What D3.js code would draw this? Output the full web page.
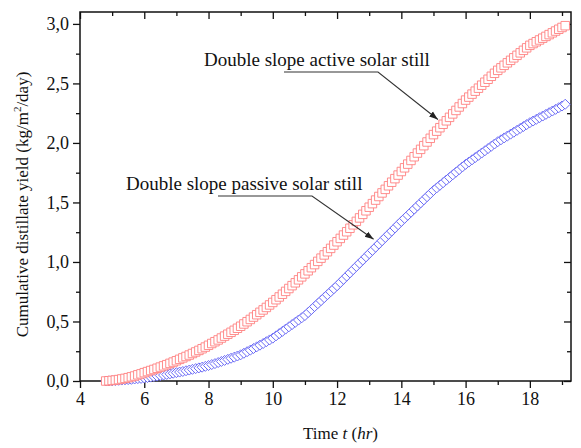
<!DOCTYPE html>
<html>
<head>
<meta charset="utf-8">
<script src="https://cdn.jsdelivr.net/npm/d3@7"></script>
<style>
body { margin: 0; background: #fff; }
text { font-family: "Liberation Serif", "Times New Roman", serif; fill: #111; }
</style>
</head>
<body>
<div id="chart"></div>
<script>
// time of day (hr), one reading every 0.1 hr
var time = [4.8, 4.9,
  5.0, 5.1, 5.2, 5.3, 5.4, 5.5, 5.6, 5.7, 5.8, 5.9,
  6.0, 6.1, 6.2, 6.3, 6.4, 6.5, 6.6, 6.7, 6.8, 6.9,
  7.0, 7.1, 7.2, 7.3, 7.4, 7.5, 7.6, 7.7, 7.8, 7.9,
  8.0, 8.1, 8.2, 8.3, 8.4, 8.5, 8.6, 8.7, 8.8, 8.9,
  9.0, 9.1, 9.2, 9.3, 9.4, 9.5, 9.6, 9.7, 9.8, 9.9,
  10.0, 10.1, 10.2, 10.3, 10.4, 10.5, 10.6, 10.7, 10.8, 10.9,
  11.0, 11.1, 11.2, 11.3, 11.4, 11.5, 11.6, 11.7, 11.8, 11.9,
  12.0, 12.1, 12.2, 12.3, 12.4, 12.5, 12.6, 12.7, 12.8, 12.9,
  13.0, 13.1, 13.2, 13.3, 13.4, 13.5, 13.6, 13.7, 13.8, 13.9,
  14.0, 14.1, 14.2, 14.3, 14.4, 14.5, 14.6, 14.7, 14.8, 14.9,
  15.0, 15.1, 15.2, 15.3, 15.4, 15.5, 15.6, 15.7, 15.8, 15.9,
  16.0, 16.1, 16.2, 16.3, 16.4, 16.5, 16.6, 16.7, 16.8, 16.9,
  17.0, 17.1, 17.2, 17.3, 17.4, 17.5, 17.6, 17.7, 17.8, 17.9,
  18.0, 18.1, 18.2, 18.3, 18.4, 18.5, 18.6, 18.7, 18.8, 18.9,
  19.0, 19.1]

// double slope active solar still (kg/m2/day)
var active = [0.000, 0.002,
  0.005, 0.008, 0.012, 0.017, 0.022, 0.028, 0.035, 0.042, 0.052, 0.060,
  0.070, 0.079, 0.088, 0.097, 0.107, 0.117, 0.127, 0.137, 0.148, 0.159,
  0.170, 0.182, 0.194, 0.206, 0.218, 0.231, 0.244, 0.257, 0.271, 0.285,
  0.300, 0.315, 0.330, 0.345, 0.361, 0.377, 0.393, 0.409, 0.426, 0.443,
  0.460, 0.479, 0.498, 0.517, 0.537, 0.557, 0.577, 0.597, 0.618, 0.639,
  0.660, 0.683, 0.706, 0.729, 0.753, 0.777, 0.801, 0.825, 0.850, 0.875,
  0.900, 0.926, 0.952, 0.978, 1.005, 1.032, 1.059, 1.086, 1.114, 1.142,
  1.170, 1.198, 1.226, 1.254, 1.283, 1.312, 1.341, 1.370, 1.400, 1.430,
  1.460, 1.490, 1.520, 1.550, 1.580, 1.610, 1.640, 1.670, 1.700, 1.730,
  1.760, 1.791, 1.822, 1.853, 1.884, 1.915, 1.946, 1.977, 2.008, 2.039,
  2.070, 2.099, 2.128, 2.157, 2.186, 2.215, 2.244, 2.273, 2.302, 2.331,
  2.360, 2.385, 2.410, 2.435, 2.460, 2.485, 2.510, 2.535, 2.560, 2.585,
  2.610, 2.631, 2.652, 2.673, 2.694, 2.715, 2.736, 2.757, 2.778, 2.799,
  2.820, 2.835, 2.850, 2.865, 2.880, 2.895, 2.910, 2.925, 2.940, 2.955,
  2.970, 2.985]

// double slope passive solar still (kg/m2/day)
var passive = [0.000, 0.001,
  0.002, 0.004, 0.006, 0.008, 0.010, 0.012, 0.014, 0.017, 0.020, 0.022,
  0.025, 0.029, 0.033, 0.037, 0.041, 0.046, 0.050, 0.055, 0.060, 0.065,
  0.070, 0.075, 0.080, 0.086, 0.092, 0.098, 0.104, 0.110, 0.116, 0.123,
  0.130, 0.138, 0.146, 0.155, 0.164, 0.173, 0.182, 0.191, 0.200, 0.210,
  0.220, 0.233, 0.246, 0.259, 0.273, 0.287, 0.301, 0.315, 0.330, 0.345,
  0.360, 0.379, 0.398, 0.417, 0.436, 0.455, 0.474, 0.493, 0.512, 0.531,
  0.550, 0.575, 0.600, 0.625, 0.650, 0.675, 0.700, 0.725, 0.750, 0.775,
  0.800, 0.827, 0.854, 0.881, 0.908, 0.935, 0.962, 0.989, 1.016, 1.043,
  1.070, 1.097, 1.124, 1.151, 1.178, 1.205, 1.232, 1.259, 1.286, 1.313,
  1.340, 1.366, 1.392, 1.418, 1.444, 1.470, 1.496, 1.522, 1.548, 1.574,
  1.600, 1.622, 1.644, 1.666, 1.688, 1.710, 1.732, 1.754, 1.776, 1.798,
  1.820, 1.839, 1.858, 1.877, 1.896, 1.915, 1.934, 1.953, 1.972, 1.991,
  2.010, 2.026, 2.042, 2.058, 2.074, 2.090, 2.106, 2.122, 2.138, 2.154,
  2.170, 2.184, 2.198, 2.212, 2.226, 2.240, 2.254, 2.268, 2.282, 2.296,
  2.310, 2.325]

var xMajor = [4, 6, 8, 10, 12, 14, 16, 18]
var xMinor = [5, 7, 9, 11, 13, 15, 17, 19]
var yMajor = [0, 0.5, 1.0, 1.5, 2.0, 2.5, 3.0]
var yMinor = [0.25, 0.75, 1.25, 1.75, 2.25, 2.75]

var svg = d3.select("#chart").append("svg").attr("width", 581).attr("height", 448)
var margin = { top: 12, bottom: 67, left: 80, right: 10 }
var width = 581 - margin.left - margin.right
var height = 448 - margin.top - margin.bottom

var x = d3.scaleLinear().domain([4, 19.28]).range([0, width])
var y = d3.scaleLinear().domain([0, 3.1]).range([height, 0])
var comma = function(d) { return d3.format(".1f")(d).replace(".", ",") }

var g = svg.append("g").attr("transform", "translate(" + margin.left + "," + margin.top + ")")

// minor ticks first, then majors with labels
function styleAxis(sel) {
    sel.select(".domain").remove()
    sel.selectAll("line").attr("stroke", "#111").attr("stroke-width", 1.3)
    sel.selectAll("text").style("font-size", "18px").attr("fill", "#111")
}
g.append("g").attr("transform", "translate(0," + height + ")")
    .call(d3.axisBottom(x).tickValues(xMinor).tickSize(4).tickFormat("")).call(styleAxis)
g.append("g").attr("transform", "translate(0," + height + ")")
    .call(d3.axisBottom(x).tickValues(xMajor).tickSize(7).tickPadding(4).tickFormat(d3.format("d"))).call(styleAxis)
g.append("g").call(d3.axisTop(x).tickValues(xMinor).tickSize(-4).tickFormat("")).call(styleAxis)
g.append("g").call(d3.axisTop(x).tickValues(xMajor).tickSize(-7).tickFormat("")).call(styleAxis)

g.append("g").call(d3.axisLeft(y).tickValues(yMinor).tickSize(4).tickFormat("")).call(styleAxis)
g.append("g").call(d3.axisLeft(y).tickValues(yMajor).tickSize(7).tickPadding(4).tickFormat(comma)).call(styleAxis)
g.append("g").attr("transform", "translate(" + width + ",0)")
    .call(d3.axisRight(y).tickValues(yMinor).tickSize(-4).tickFormat("")).call(styleAxis)
g.append("g").attr("transform", "translate(" + width + ",0)")
    .call(d3.axisRight(y).tickValues(yMajor).tickSize(-7).tickFormat("")).call(styleAxis)

g.append("rect").attr("width", width).attr("height", height)
    .attr("fill", "none").attr("stroke", "#111").attr("stroke-width", 1.5)

// series markers
var square = d3.symbol().type(d3.symbolSquare).size(72)
var diamond = d3.symbol().type(d3.symbolSquare).size(50)

g.append("g").selectAll("path").data(passive).enter().append("path")
    .attr("d", diamond)
    .attr("transform", function(d, i) { return "translate(" + x(time[i]) + "," + y(d) + ") rotate(45)" })
    .attr("fill", "#fff").attr("stroke", "#6464f5").attr("stroke-width", 0.9)

g.append("g").selectAll("path").data(active).enter().append("path")
    .attr("d", square)
    .attr("transform", function(d, i) { return "translate(" + x(time[i]) + "," + y(d) + ")" })
    .attr("fill", "#fff").attr("stroke", "#ff8080").attr("stroke-width", 0.9)

// annotations
svg.append("defs").append("marker").attr("id", "arrow")
    .attr("viewBox", "0 0 10 10").attr("refX", 10).attr("refY", 5)
    .attr("markerWidth", 8).attr("markerHeight", 8).attr("orient", "auto")
    .append("path").attr("d", "M0,1.5L10,5L0,8.5Z").attr("fill", "#222")

function note(label, tx, ty, lx0, lx1, tip) {
    svg.append("text").attr("x", tx).attr("y", ty).style("font-size", "19px").text(label)
    svg.append("polyline")
        .attr("points", [[lx0, ty + 6], [lx1, ty + 6], tip].map(function(p) { return p.join(",") }).join(" "))
        .attr("fill", "none").attr("stroke", "#333").attr("stroke-width", 1.1)
        .attr("marker-end", "url(#arrow)")
}
note("Double slope active solar still", 204, 66, 284, 378,
    [margin.left + x(15.2) - 2, margin.top + y(2.13) - 8])
note("Double slope passive solar still", 126, 190, 218, 312,
    [margin.left + x(13.2) - 2, margin.top + y(1.124) - 8])

// axis titles
var xt = svg.append("text").attr("x", margin.left + width / 2 + 15).attr("y", 439)
    .attr("text-anchor", "middle").style("font-size", "17px")
xt.append("tspan").text("Time ")
xt.append("tspan").style("font-style", "italic").text("t")
xt.append("tspan").text(" (")
xt.append("tspan").style("font-style", "italic").text("hr")
xt.append("tspan").text(")")

var yt = svg.append("text").attr("transform", "translate(28," + (margin.top + height / 2 + 8) + ") rotate(-90)")
    .attr("text-anchor", "middle").style("font-size", "17px")
yt.append("tspan").text("Cumulative distillate yield (kg/m")
yt.append("tspan").attr("dy", -7).style("font-size", "11px").text("2")
yt.append("tspan").attr("dy", 7).text("/day)")
</script>
</body>
</html>
